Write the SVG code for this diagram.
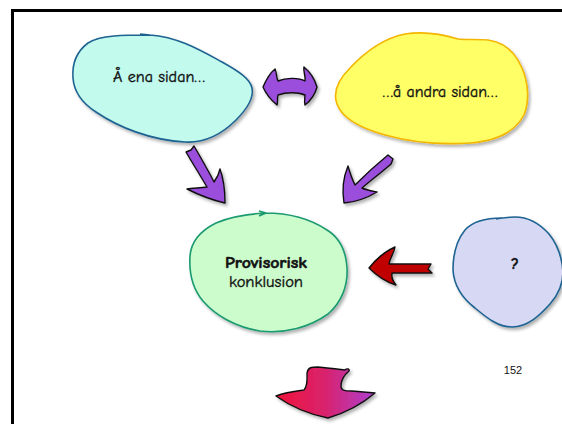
<svg xmlns="http://www.w3.org/2000/svg" width="562" height="424" viewBox="0 0 562 424">
  <defs>
    <filter id="shadow" x="-20%" y="-20%" width="150%" height="150%">
      <feDropShadow dx="2" dy="2.5" stdDeviation="1.6" flood-color="#000" flood-opacity="0.3"/>
    </filter>
    <linearGradient id="downGrad" x1="0" y1="0" x2="1" y2="0">
      <stop offset="0" stop-color="#f0143a"/>
      <stop offset="0.5" stop-color="#d8236e"/>
      <stop offset="1" stop-color="#ae3fd0"/>
    </linearGradient>
    <style>
      .blob { stroke-width: 1.6; stroke-linejoin: round; filter: url(#shadow); }
      .arrow { stroke: #111; stroke-width: 1.4; stroke-linejoin: round; filter: url(#shadow); }
      .purple { fill: #9b4ddc; }
      .label { font-family: "Comic Neue", "Liberation Sans", "DejaVu Sans", sans-serif; font-size: 15px; fill: #111; stroke: #111; stroke-width: 0.35; text-anchor: middle; }
      .bold { font-weight: bold; stroke-width: 0.5; }
      .page { font-family: "Liberation Sans", "DejaVu Sans", sans-serif; font-size: 11px; fill: #111; text-anchor: middle; }
    </style>
  </defs>

  <rect width="562" height="424" fill="#fff"/>
  <!-- slide frame -->
  <rect x="12.5" y="10.5" width="600" height="500" fill="none" stroke="#000" stroke-width="3"/>

  <!-- one side -->
  <g id="node-one-side">
    <path class="blob" fill="#c2fbee" stroke="#1f6391"
      d="M150,35 C125,35 100,35 88,43 C76,52 72,65 73,78 C74,92 82,103 96,112 C118,127 150,140 185,142 C205,143 222,134 236,120 C246,110 254,98 252,88 C250,79 240,72 222,62 C200,50 178,37 150,35 Z M150,35 L140,34"/>
    <text class="label" x="159" y="82" textLength="92" lengthAdjust="spacingAndGlyphs">Å ena sidan…</text>
  </g>

  <!-- other side -->
  <g id="node-other-side">
    <path class="blob" fill="#ffff66" stroke="#f3b600"
      d="M458,39 C445,35 425,31 405,34 C385,38 365,52 350,68 C338,80 333,93 337,104 C342,118 360,128 385,135 C410,142 440,145 470,143 C495,141 515,132 524,115 C530,100 528,82 522,68 C515,52 503,42 488,40 C478,39 465,40 458,39 Z"/>
    <text class="label" x="440" y="97" textLength="115" lengthAdjust="spacingAndGlyphs">…å andra sidan…</text>
  </g>

  <!-- provisional conclusion -->
  <g id="node-conclusion">
    <path class="blob" fill="#ccfccc" stroke="#1a9a70"
      d="M265,213 C250,214 232,216 216,223 C200,231 191,242 190,256 C189,272 192,288 203,301 C215,315 235,327 260,331 C285,334 310,327 328,314 C342,302 348,285 347,268 C346,252 340,238 327,230 C312,220 290,213 265,213 Z M259,211 L266,213 L259,216"/>
    <text class="label bold" x="266" y="268" textLength="82" lengthAdjust="spacingAndGlyphs">Provisorisk</text>
    <text class="label" x="266" y="287" textLength="74" lengthAdjust="spacingAndGlyphs">konklusion</text>
  </g>

  <!-- unknown -->
  <g id="node-unknown">
    <path class="blob" fill="#d6d8f4" stroke="#1f6391"
      d="M502,218 C488,218 474,220 465,230 C456,241 453,256 453,270 C454,286 462,298 475,308 C487,318 498,327 512,327 C528,327 540,315 550,304 C558,295 563,285 563,272 C562,258 558,245 549,234 C540,224 528,217 515,217 C508,217 504,218 502,218 Z M502,218 L496,219"/>
    <text class="label bold" x="515" y="269" font-size="17">?</text>
  </g>

  <!-- page number -->
  <text class="page" x="513" y="374">152</text>

  <!-- connectors -->
  <g id="connectors">
    <!-- two-way arrow between the two sides -->
    <path class="arrow purple"
      d="M263,87 C266,80 270,73 275,69 C277,73 276,77 278,81 C285,78 298,77 305,81 C306,77 303,71 304,67 C310,72 315,80 317,87 C315,95 310,101 305,105 C304,101 305,98 305,95 C298,92 286,92 278,95 C277,98 278,102 277,105 C271,100 266,94 263,87 Z"/>
    <!-- one side to conclusion -->
    <path class="arrow purple"
      d="M186,152 L191,150 L194,146 C201,158 208,170 214,182 C217,178 219,174 220,169 C224,180 225,192 225,203 C212,200 199,195 187,189 C193,188 200,188 207,187 C200,175 193,164 186,152 Z"/>
    <!-- other side to conclusion -->
    <path class="arrow purple"
      d="M388,155 L393,159 L391,164 C382,172 370,181 362,188 C366,190 372,191 377,192 C367,198 356,202 344,203 C342,191 343,178 348,166 C350,173 352,179 355,185 C365,175 377,164 388,155 Z"/>
    <!-- unknown to conclusion -->
    <path class="arrow" fill="#c00000"
      d="M369,268 C377,258 386,251 395,247 C394,253 390,258 389,264 L431,264 L428,269 L432,273 L392,273 C391,278 393,281 396,285 C386,282 377,276 369,268 Z"/>
    <!-- onward from conclusion -->
    <path class="arrow" fill="url(#downGrad)"
      d="M276,396 C286,392 296,391 304,390 C308,386 307,378 307,373 C308,367 312,367 318,367 C328,368 338,369 345,370 C347,368 350,369 349,371 C343,376 341,382 341,386 C341,391 346,391 352,391 L375,393 C362,404 345,413 328,418 C308,414 290,406 276,396 Z"/>
  </g>
</svg>
